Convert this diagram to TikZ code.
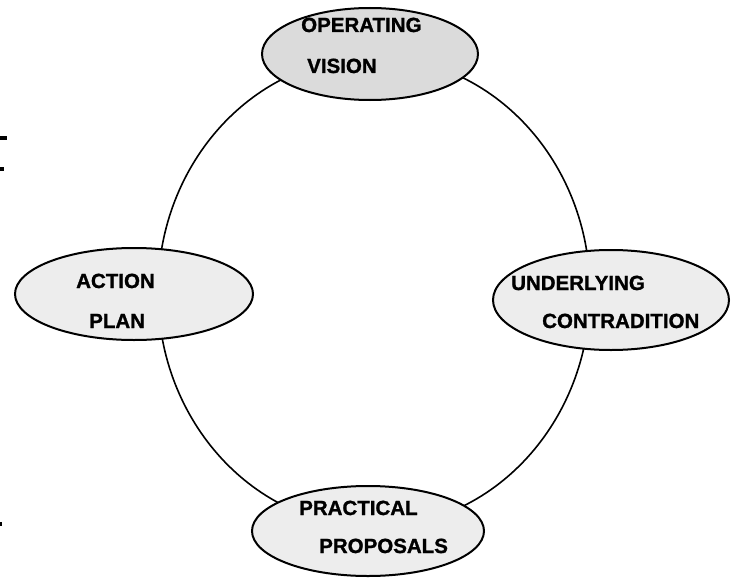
\documentclass[tikz,border=0pt]{standalone}
\usepackage{fontspec}
\setmainfont{Liberation Sans}[BoldFeatures={FakeBold=1.2}]
\usetikzlibrary{shapes.geometric}
\begin{document}
\begin{tikzpicture}[x=1pt,y=-1pt,
  stage/.style={ellipse,draw=black,line width=2pt,fill=black!7,inner sep=0pt},
  ring/.style={ellipse,draw=black,line width=1.6pt,inner sep=0pt},
  word/.style={anchor=base west,inner sep=0pt,font=\fontsize{20.5}{24}\selectfont\bfseries}]
\useasboundingbox (0,0) rectangle (736,578);
% the cycle that links the four stages
\node[ring,minimum width=432pt,minimum height=470pt] (cycle) at (374,292) {};
% stages
\node[stage,fill=black!14,minimum width=216pt,minimum height=92pt] (vision) at (370,54) {};
\node[stage,minimum width=238pt,minimum height=92pt] (action) at (134,294) {};
\node[stage,minimum width=236pt,minimum height=100pt] (contra) at (611,300) {};
\node[stage,minimum width=232pt,minimum height=90pt] (practical) at (368,531) {};
% stage labels
\node[word] (t1) at (301,32) {OPERATING};
\node[word] (t2) at (307,73) {VISION};
\node[word] (t3) at (76,288) {ACTION};
\node[word] (t4) at (89,328) {PLAN};
\node[word] (t5) at (511,290) {UNDERLYING};
\node[word] (t6) at (542,328) {CONTRADITION};
\node[word] (t7) at (299,515) {PRACTICAL};
\node[word] (t8) at (319,553) {PROPOSALS};
% small marks at the left margin
\fill (0,136) rectangle (7,140);
\fill (0,167) rectangle (4,171);
\fill (0,522) rectangle (2,526);
\end{tikzpicture}
\end{document}
